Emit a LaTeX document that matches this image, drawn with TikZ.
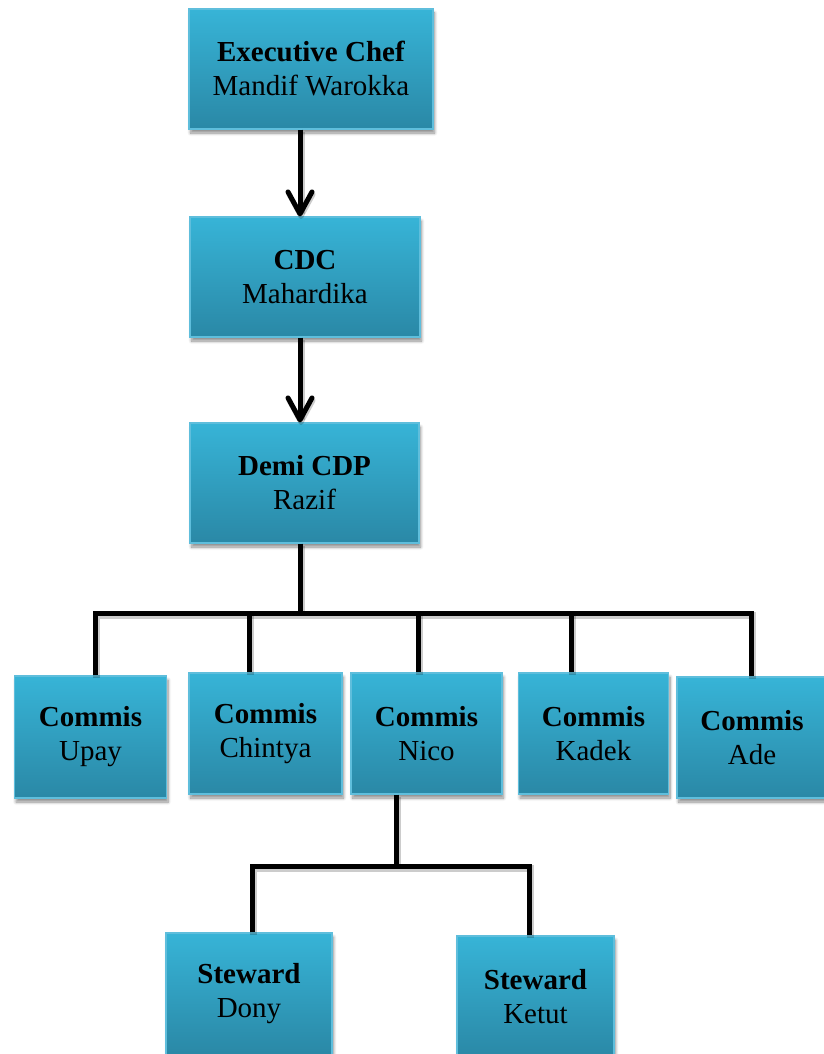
\documentclass[tikz,border=0pt]{standalone}
\usepackage{fontspec}
\setmainfont{Liberation Serif}
\usetikzlibrary{shadows.blur,arrows.meta}
\definecolor{boxtop}{RGB}{55,180,215}
\definecolor{boxbot}{RGB}{42,136,166}
\definecolor{boxedge}{RGB}{95,190,220}
\tikzset{
  orgbox/.style={rectangle, inner sep=0pt, align=center, draw=boxedge, line width=1.2pt,
    top color=boxtop, bottom color=boxbot,
    blur shadow={shadow xshift=1.5pt, shadow yshift=-4pt, shadow blur radius=3pt, shadow blur steps=8, shadow opacity=45},
    font=\fontsize{29}{34}\selectfont},
  link/.style={line width=5pt, black, line join=miter,
    preaction={draw=black, opacity=0.2, line width=7pt, transform canvas={xshift=1pt,yshift=-2.5pt}}},
  arrowlink/.style={link, -{Straight Barb[length=22pt,width=24pt,line width=5pt,round]}}
}
\begin{document}
\begin{tikzpicture}[x=1pt,y=-1pt]
\useasboundingbox (0,0) rectangle (823,1054);
% boxes
\node[orgbox, minimum width=244pt, minimum height=120pt] (exec) at (311,69) {\textbf{Executive Chef}\\Mandif Warokka};
\node[orgbox, minimum width=230pt, minimum height=120pt] (cdc) at (305,277) {\textbf{CDC}\\Mahardika};
\node[orgbox, minimum width=229pt, minimum height=120pt] (demi) at (304.5,483) {\textbf{Demi CDP}\\Razif};
\node[orgbox, minimum width=152pt, minimum height=122pt] (upay) at (90.5,737) {\textbf{Commis}\\Upay};
\node[orgbox, minimum width=153pt, minimum height=121pt] (chintya) at (265.5,733.5) {\textbf{Commis}\\Chintya};
\node[orgbox, minimum width=151pt, minimum height=121pt] (nico) at (426.5,733.5) {\textbf{Commis}\\Nico};
\node[orgbox, minimum width=150pt, minimum height=121pt] (kadek) at (593.5,733.5) {\textbf{Commis}\\Kadek};
\node[orgbox, minimum width=150pt, minimum height=121pt] (ade) at (752,737.5) {\textbf{Commis}\\Ade};
\node[orgbox, minimum width=166pt, minimum height=122pt] (dony) at (249,994) {\textbf{Steward}\\Dony};
\node[orgbox, minimum width=157pt, minimum height=122pt] (ketut) at (535.5,997) {\textbf{Steward}\\Ketut};
% junction coordinates
\coordinate (a1) at (300,0);
\coordinate (j1) at (300,613);
\coordinate (b1) at (95,613);
\coordinate (b2) at (249,613);
\coordinate (b3) at (418,613);
\coordinate (b4) at (571,613);
\coordinate (b5) at (751,613);
\coordinate (j2) at (396,866);
\coordinate (c1) at (252,866);
\coordinate (c2) at (529,866);
% connectors
\draw[arrowlink] (exec.south -| a1) -- (cdc.north -| a1);
\draw[arrowlink] (cdc.south -| a1) -- (demi.north -| a1);
\draw[link] (demi.south -| j1) -- (j1);
\draw[link] (b1 |- upay.north) -- (b1) -- (b5) -- (b5 |- ade.north);
\draw[link] (b2) -- (b2 |- chintya.north);
\draw[link] (b3) -- (b3 |- nico.north);
\draw[link] (b4) -- (b4 |- kadek.north);
\draw[link] (nico.south -| j2) -- (j2);
\draw[link] (c1 |- dony.north) -- (c1) -- (c2) -- (c2 |- ketut.north);
\end{tikzpicture}
\end{document}
